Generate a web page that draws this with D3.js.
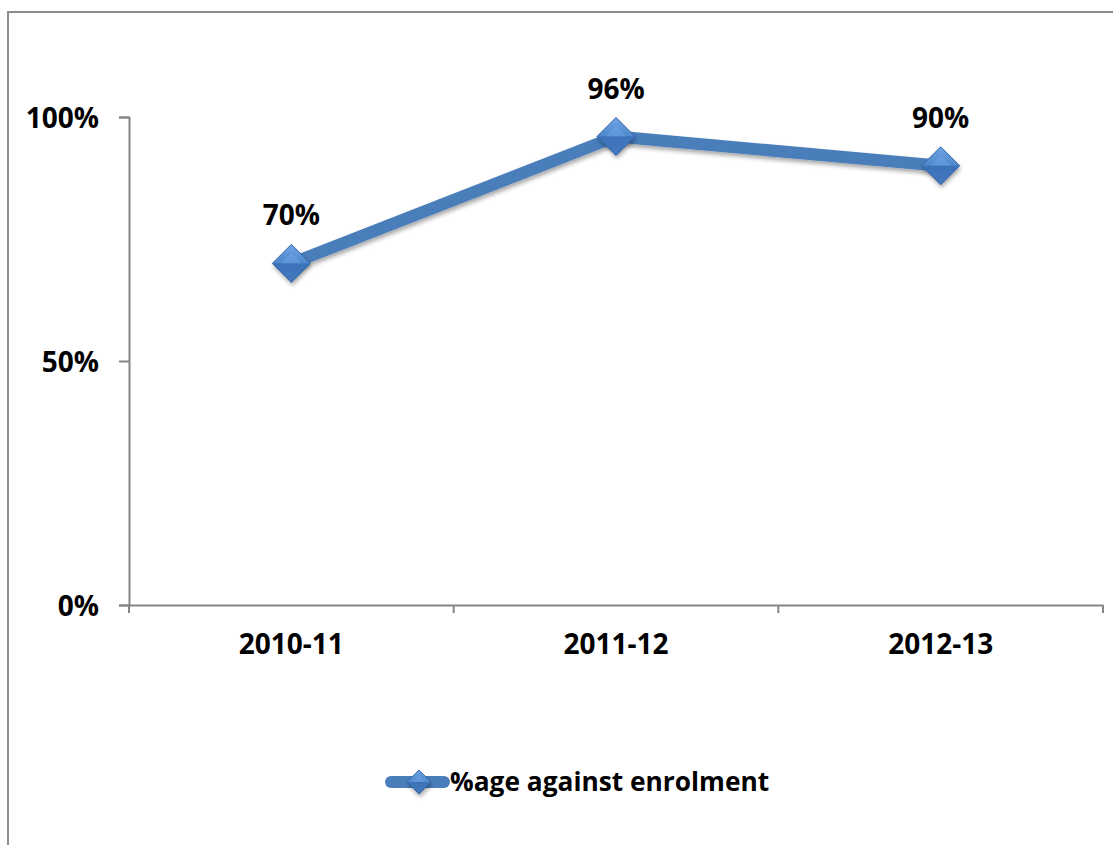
<!DOCTYPE html>
<html>
<head>
<meta charset="utf-8">
<script src="https://cdn.jsdelivr.net/npm/d3@7"></script>
<style>
  html, body { margin: 0; padding: 0; background: #fff; }
  svg { display: block; }
  text { font-family: "Open Sans", Lato, sans-serif; font-weight: bold; fill: #000; }
</style>
</head>
<body>
<svg id="chart" width="1113" height="845"></svg>
<script>
// Share of enrolment per academic year
const years = ["2010-11", "2011-12", "2012-13"];
const values = [70, 96, 90];
const yTicks = [0, 50, 100];
const seriesName = "%age against enrolment";

const W = 1113, H = 845;
const svg = d3.select("#chart");
const blue = "#4a7ebb";
const axisGray = "#868686";
const FONT = "'Open Sans', Lato, sans-serif";
const NUM_SIZE = "28px";

const plot = { left: 129, right: 1103, top: 117, bottom: 605 };

const x = d3.scaleBand().domain(years).range([plot.left, plot.right]).paddingInner(0).paddingOuter(0);
const y = d3.scaleLinear().domain([0, 100]).range([plot.bottom, plot.top]);
const cx = d => x(d) + x.bandwidth() / 2;

// outer chart frame (extends past the page edge on the right and bottom)
svg.append("rect")
  .attr("x", 8).attr("y", 12)
  .attr("width", W + 20).attr("height", H + 20)
  .attr("fill", "none").attr("stroke", "#8c8c8c").attr("stroke-width", 2);

const defs = svg.append("defs");
const shadow = defs.append("filter").attr("id", "shadow")
  .attr("x", "-30%").attr("y", "-30%").attr("width", "160%").attr("height", "160%");
shadow.append("feDropShadow").attr("dx", 1).attr("dy", 3).attr("stdDeviation", 2.2)
  .attr("flood-color", "#000").attr("flood-opacity", 0.35);

const topGrad = defs.append("linearGradient").attr("id", "topFacet")
  .attr("x1", 0).attr("y1", 0).attr("x2", 0).attr("y2", 1);
topGrad.append("stop").attr("offset", "0%").attr("stop-color", "#6fa5e4");
topGrad.append("stop").attr("offset", "100%").attr("stop-color", "#4f87cc");
const botGrad = defs.append("linearGradient").attr("id", "botFacet")
  .attr("x1", 0).attr("y1", 0).attr("x2", 0).attr("y2", 1);
botGrad.append("stop").attr("offset", "0%").attr("stop-color", "#3c72b8");
botGrad.append("stop").attr("offset", "100%").attr("stop-color", "#4479bd");

// y axis
const yAxis = d3.axisLeft(y).tickValues(yTicks).tickSize(10).tickFormat(d => d + "%");
const gy = svg.append("g").attr("transform", `translate(${plot.left},0)`).call(yAxis);
gy.select(".domain").attr("stroke", axisGray).attr("stroke-width", 2);
gy.selectAll(".tick line").attr("stroke", axisGray).attr("stroke-width", 2);
gy.selectAll(".tick text").attr("x", -30).attr("dy", "0.36em").attr("fill", "#000")
  .style("font-size", NUM_SIZE).style("font-family", FONT).style("font-weight", "bold");

// x axis with ticks between categories
const xAxis = d3.axisBottom(x).tickSize(0).tickSizeOuter(0);
const gx = svg.append("g").attr("transform", `translate(0,${plot.bottom})`).call(xAxis);
gx.select(".domain").attr("stroke", axisGray).attr("stroke-width", 2);
gx.selectAll(".tick text").attr("y", 49).attr("dy", 0).attr("fill", "#000")
  .style("font-size", NUM_SIZE).style("font-family", FONT).style("font-weight", "bold");
const bounds = years.map(d => x(d)).concat([x(years[years.length - 1]) + x.bandwidth()]);
gx.selectAll(".sep").data(bounds).join("line").attr("class", "sep")
  .attr("x1", d => d).attr("x2", d => d).attr("y1", 0).attr("y2", 8)
  .attr("stroke", axisGray).attr("stroke-width", 2);

// series line
const line = d3.line().x((d, i) => cx(years[i])).y(d => y(d));
svg.append("path").datum(values)
  .attr("d", line)
  .attr("fill", "none").attr("stroke", blue).attr("stroke-width", 12)
  .attr("stroke-linejoin", "round").attr("stroke-linecap", "round")
  .attr("filter", "url(#shadow)");

// bevelled diamond marker
function diamond(g, r) {
  g.append("path").attr("d", `M${-r},0L0,${-r}L${r},0L0,${r}Z`)
    .attr("fill", "#3f74b8").attr("filter", "url(#shadow)");
  g.append("path").attr("d", `M${-r},0L0,${-r}L${r},0Z`).attr("fill", "url(#topFacet)");
  g.append("path").attr("d", `M${-r},0L${r},0L0,${r}Z`).attr("fill", "url(#botFacet)");
  g.append("path").attr("d", `M${-r * 0.55},0L0,${-r * 0.55}L${r * 0.55},0Z`)
    .attr("fill", "#79aee9").attr("opacity", 0.35);
  g.append("path").attr("d", `M${-r},0L0,${-r}L${r},0L0,${r}Z`)
    .attr("fill", "none").attr("stroke", "#2f5f9e").attr("stroke-width", 0.8);
}

const pts = svg.append("g").selectAll("g").data(values).join("g")
  .attr("transform", (d, i) => `translate(${cx(years[i])},${y(d)})`);
pts.each(function () { diamond(d3.select(this), 19); });

// value labels
svg.append("g").selectAll("text").data(values).join("text")
  .attr("x", (d, i) => cx(years[i]))
  .attr("y", d => y(d) - 38)
  .attr("text-anchor", "middle")
  .style("font-size", NUM_SIZE)
  .text(d => d + "%");

// legend
const lg = svg.append("g").attr("transform", "translate(0,782)");
lg.append("line").attr("x1", 391).attr("x2", 444).attr("y1", 0).attr("y2", 0)
  .attr("stroke", blue).attr("stroke-width", 12).attr("stroke-linecap", "round");
const lm = lg.append("g").attr("transform", "translate(419,0)");
diamond(lm, 12);
lg.append("text").attr("x", 450).attr("y", 9).style("font-size", "26.3px").text(seriesName);
</script>
</body>
</html>
